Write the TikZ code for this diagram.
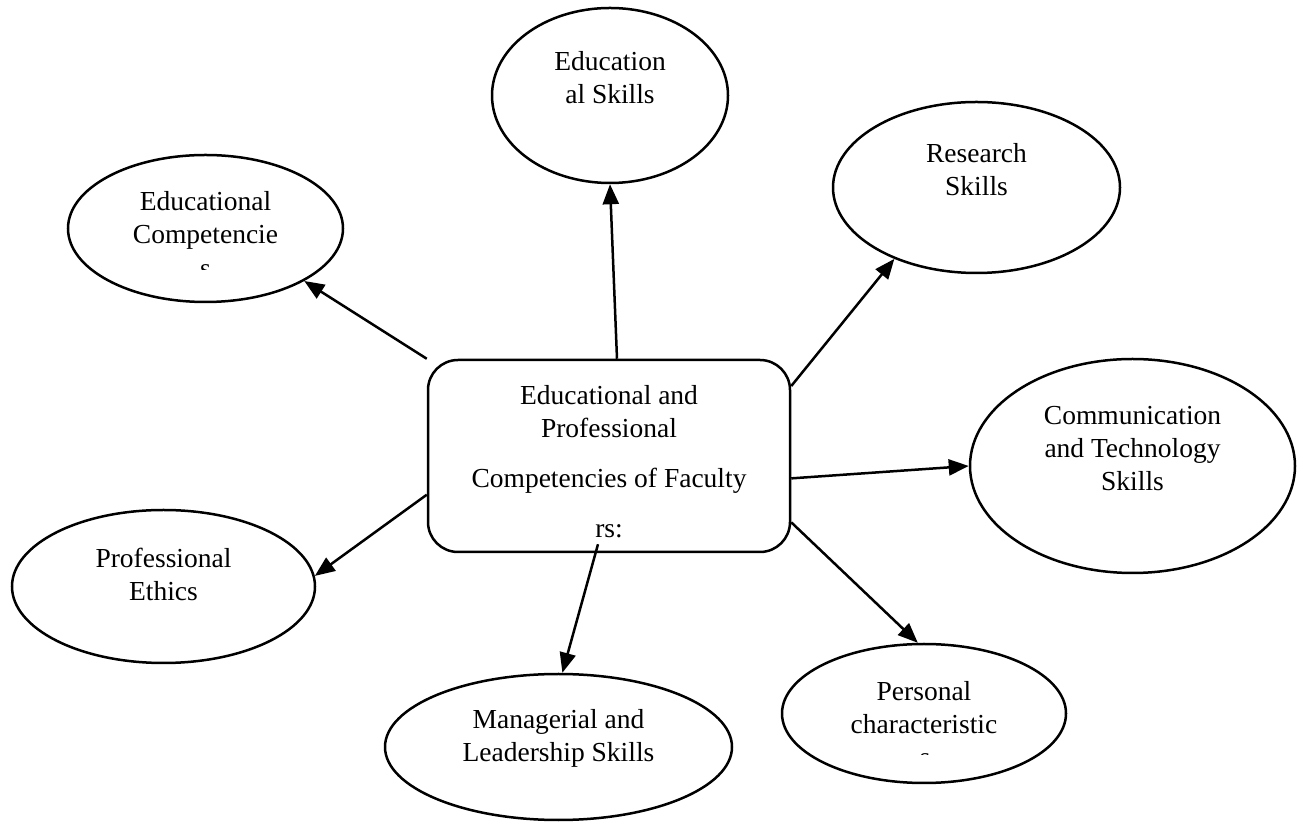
\documentclass[tikz,border=0pt]{standalone}
\usepackage{fontspec}
\setmainfont{Liberation Serif}
\usetikzlibrary{shapes.geometric}
\usetikzlibrary{arrows.meta}
\usetikzlibrary{positioning}
\tikzset{bubble/.style={draw=black, ellipse, line width=1.25pt, inner sep=0pt},
	corebox/.style={draw=black, rectangle, rounded corners=15pt, line width=1.25pt, minimum width=181pt, minimum height=96pt},
	lbl/.style={align=center, font=\fontsize{13.75}{16.5}\selectfont, inner sep=0pt},
	link/.style={line width=1.25pt, -{Triangle[length=10pt,width=8pt]}}}

\begin{document}
\begin{tikzpicture}[x=0.5pt, y=-0.5pt]
	\useasboundingbox (0,0) rectangle (1301,822);
	
	% centre box
	\node[corebox] (core) at (609,456) {};
	\node[lbl] (core-t) at (609,461.5) {Educational and\\Professional\\[8.5pt]Competencies of Faculty\\[8.5pt]rs:};
	
	% top
	\node[bubble, minimum width=118pt, minimum height=87.5pt] (eskill) at (610,95.5) {};
	\node[lbl] (eskill-t) at (610,78) {Education\\al Skills};
	
	% top right
	\node[bubble, minimum width=143.5pt, minimum height=85.5pt] (research) at (976.5,187.5) {};
	\node[lbl] (research-t) at (976.5,169.5) {Research\\Skills};
	
	% top left
	\node[bubble, minimum width=137.5pt, minimum height=73.5pt] (ecomp) at (205.5,228.5) {};
	\node[lbl] (ecomp-t) at (205.5,220) {Educational\\Competencie};
	\begin{scope}
		\clip (150,250) rectangle (260,269.5);
		\node[lbl] (ecomp-s) at (205.5,271) {s};
	\end{scope}
	
	% right
	\node[bubble, minimum width=162.5pt, minimum height=107pt] (comm) at (1132.5,466) {};
	\node[lbl] (comm-t) at (1132.5,449) {Communication\\and Technology\\Skills};
	
	% left
	\node[bubble, minimum width=151.5pt, minimum height=76.5pt] (ethics) at (163.5,586.5) {};
	\node[lbl] (ethics-t) at (163.5,574) {Professional\\Ethics};
	
	% bottom
	\node[bubble, minimum width=173.5pt, minimum height=73pt] (mgr) at (558.5,747) {};
	\node[lbl] (mgr-t) at (558.5,738.5) {Managerial and\\Leadership Skills};
	
	% bottom right
	\node[bubble, minimum width=142pt, minimum height=69.5pt] (pers) at (924,713.5) {};
	\node[lbl] (pers-t) at (924,707.5) {Personal\\characteristic};
	\begin{scope}
		\clip (880,740) rectangle (970,754.5);
		\node[lbl] (pers-s) at (925,760) {s};
	\end{scope}
	
	% arrows
	\draw[link] ([xshift=4pt]core.north) -- (eskill.south);
	\draw[link] (core.21) -- (research.221);
	\draw[link] (core.north west) -- (ecomp.-28);
	\draw[link] (core.-7.5) -- (comm.west);
	\draw[link] (core.192) -- (ethics.4);
	\draw[link] ([xshift=-5.5pt,yshift=4.5pt]core.south) -- (mgr.87);
	\draw[link] (core.-20) -- (pers.95);
	
\end{tikzpicture}
\end{document}
